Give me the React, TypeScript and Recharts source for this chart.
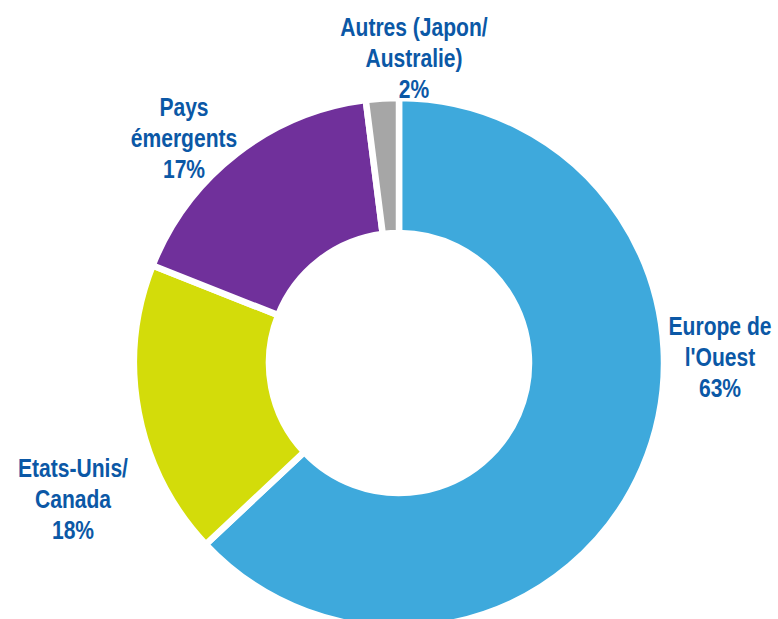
import React from "react";
import { PieChart, Pie, Cell } from "recharts";

// Regions and their share of the total (%)
const regions = [
  "Europe de\nl'Ouest",
  "Etats-Unis/\nCanada",
  "Pays\némergents",
  "Autres (Japon/\nAustralie)",
];
const shares = [63, 18, 17, 2];
const colors = ["#3ea9dc", "#d3dc0a", "#70309b", "#a6a6a6"];

const chartData = regions.map((region, i) => ({
  region,
  share: shares[i],
}));

// label centre offsets from the pie centre (middle line)
const labelOffsets = [
  { dx: 321, dy: -6 },
  { dx: -326, dy: 136 },
  { dx: -215, dy: -225 },
  { dx: 15, dy: -305 },
];

const FONT = "'Liberation Sans', Arial, sans-serif";
const LINE_H = 31;
const FONT_SIZE = 26;
const NARROW = 0.81; // fake Arial Narrow

function renderLabel(props: any) {
  const { cx, cy, index, payload } = props;
  const off = labelOffsets[index];
  const lines = [...payload.region.split("\n"), `${payload.share}%`];
  const x = cx + off.dx;
  const midY = cy + off.dy;
  const firstY = -((lines.length - 1) / 2) * LINE_H + FONT_SIZE * 0.36;
  return (
    <g transform={`translate(${x},${midY}) scale(${NARROW},1)`}>
      <text
        x={0}
        y={firstY}
        textAnchor="middle"
        fill="#0b58a6"
        fontFamily={FONT}
        fontWeight="bold"
        fontSize={FONT_SIZE}
      >
        {lines.map((line: string, i: number) => (
          <tspan key={i} x={0} y={firstY + i * LINE_H}>
            {line}
          </tspan>
        ))}
      </text>
    </g>
  );
}

export default function App() {
  return (
    <div style={{ position: "absolute", left: 0, top: 0, background: "#fff" }}>
      <PieChart
        width={778}
        height={619}
        margin={{ top: 0, right: 0, bottom: 0, left: 0 }}
      >
        <Pie
          data={chartData}
          dataKey="share"
          nameKey="region"
          cx={399}
          cy={363}
          innerRadius={130}
          outerRadius={265}
          startAngle={90}
          endAngle={-270}
          stroke="#ffffff"
          strokeWidth={6.5}
          label={renderLabel}
          labelLine={false}
          isAnimationActive={false}
        >
          {chartData.map((d, i) => (
            <Cell key={d.region} fill={colors[i]} />
          ))}
        </Pie>
      </PieChart>
    </div>
  );
}
